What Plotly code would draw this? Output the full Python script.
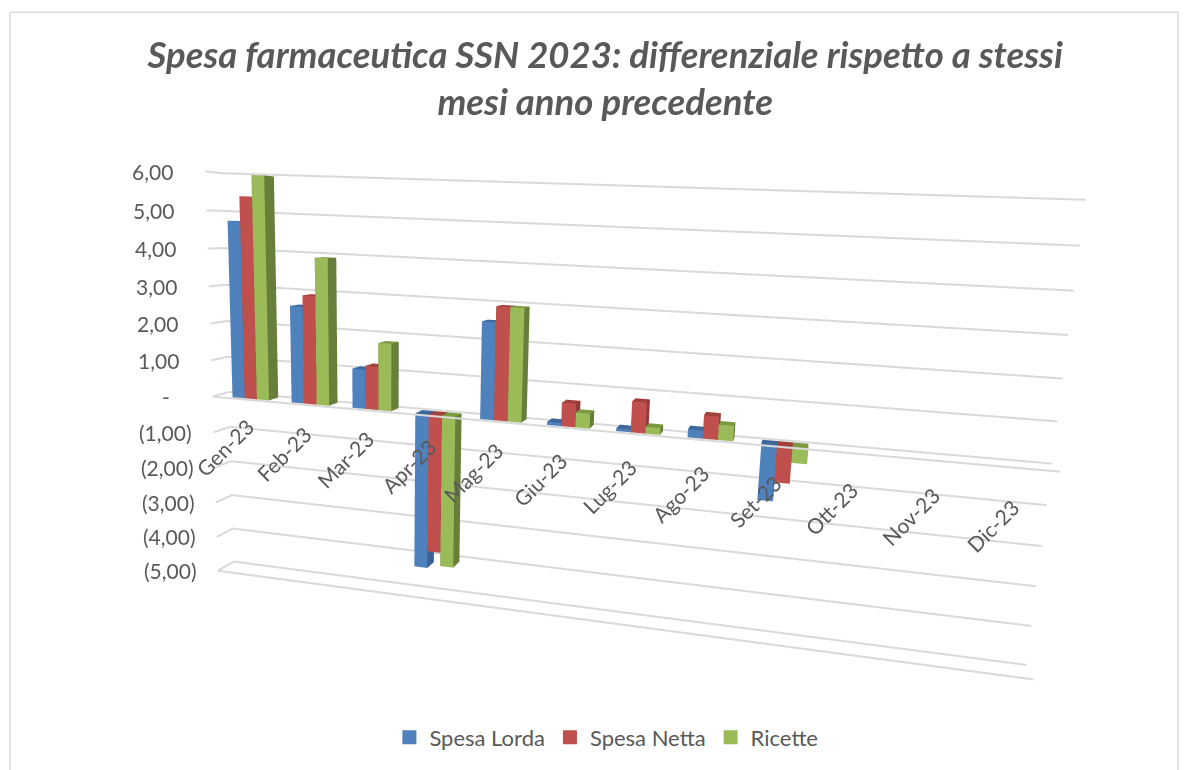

import plotly.graph_objects as go

months = ["Gen-23","Feb-23","Mar-23","Apr-23","Mag-23","Giu-23","Lug-23","Ago-23","Set-23","Ott-23","Nov-23","Dic-23"]
spesa_lorda = [4.75, 2.6, 1.05, -4.2, 2.52, 0.08, 0.07, 0.2, -1.4]
spesa_netta = [5.4, 2.9, 1.15, -3.73, 2.92, 0.6, 0.78, 0.58, -0.92]
ricette     = [5.95, 3.9, 1.78, -4.1, 2.92, 0.38, 0.17, 0.38, -0.4]
z_ticks = [6,5,4,3,2,1,0,-1,-2,-3,-4,-5]
z_labels = ["6,00","5,00","4,00","3,00","2,00","1,00","-","(1,00)","(2,00)","(3,00)","(4,00)","(5,00)"]

series = [("Spesa Lorda", spesa_lorda, "#4F81BD", "#3A6391", "#3D6899"),
          ("Spesa Netta", spesa_netta, "#C0504D", "#8E3B39", "#A03F3C"),
          ("Ricette", ricette, "#9BBB59", "#687F3C", "#7C9A42")]

GAP = 0.19
BAR_SHIFT = 0.1
BW = (1 - 2*GAP)/3
Y0, Y1 = 0.2, 0.8

def boxes(values, k, front, side, top):
    xs, ys, zs, ii, jj, kk, fc = [], [], [], [], [], [], []
    for m, v in enumerate(values):
        a = m + BAR_SHIFT + GAP + k*BW
        b = a + BW
        z0, z1 = min(0, v), max(0, v)
        n = len(xs)
        xs += [a,b,b,a,a,b,b,a]
        ys += [Y0,Y0,Y1,Y1,Y0,Y0,Y1,Y1]
        zs += [z0,z0,z0,z0,z1,z1,z1,z1]
        quads = [((0,1,5,4),front),((1,2,6,5),side),((4,5,6,7),top),
                 ((0,3,7,4),side),((3,2,6,7),side),((0,1,2,3),side)]
        for (p,q,r,s),c in quads:
            ii += [n+p,n+p]; jj += [n+q,n+r]; kk += [n+r,n+s]; fc += [c,c]
    return xs, ys, zs, ii, jj, kk, fc

fig = go.Figure()
for k,(name,vals,front,side,top) in enumerate(series):
    x,y,z,i,j,kk,fc = boxes(vals,k,front,side,top)
    fig.add_trace(go.Mesh3d(x=x,y=y,z=z,i=i,j=j,k=kk,facecolor=fc,flatshading=True,
        lighting=dict(ambient=1,diffuse=0,specular=0,roughness=1,fresnel=0),
        name=name,legendgroup=name,showlegend=False,hoverinfo="skip",showscale=False))
    fig.add_trace(go.Scatter3d(x=[None],y=[None],z=[None],mode="markers",name=name,legendgroup=name,
        marker=dict(symbol="square",size=14,color=front),showlegend=True,hoverinfo="skip"))

GRID = dict(color="#D9D9D9",width=4)
for level in z_ticks:
    fig.add_trace(go.Scatter3d(x=[0,0,12],y=[0,1,1],z=[level]*3,mode="lines",
        line=GRID,showlegend=False,hoverinfo="skip"))
for level in (0,-5):
    fig.add_trace(go.Scatter3d(x=[0,12],y=[0,0],z=[level,level],mode="lines",
        line=GRID,showlegend=False,hoverinfo="skip"))

noaxis = dict(showgrid=False,showline=False,zeroline=False,showticklabels=False,ticks="",
              title="",showbackground=False,showspikes=False)
annots = [dict(x=i+0.5,y=0,z=-1.35,text=t,showarrow=False,textangle=-45,xshift=-18,
               font=dict(family="Lato",size=21,color="#595959")) for i,t in enumerate(months)]
for v,t in zip(z_ticks,z_labels):
    pad = "" if t.startswith("(") else ("\u00a0"*4 if t=="-" else "\u00a0\u00a0")
    annots.append(dict(x=0,y=0,z=v,text=t+pad,showarrow=False,xanchor="right",xshift=-19,
                       font=dict(family="Lato",size=21,color="#595959")))
fig.update_layout(
    width=1189,height=770,margin=dict(l=0,r=0,t=0,b=0),
    paper_bgcolor="white",
    font=dict(family="Lato",color="#595959"),
    title=dict(text="<i><b>Spesa farmaceutica SSN 2023: differenziale rispetto a stessi<br>mesi anno precedente</b></i>",
               x=0.509,xanchor="center",y=0.912,yanchor="top",
               font=dict(family="Lato",size=36.5,color="#595959")),
    legend=dict(orientation="h",x=0.51,xanchor="center",y=0.015,yanchor="bottom",itemwidth=30,
                font=dict(family="Lato",size=22,color="#595959")),
    scene=dict(
        dragmode="orbit",
        domain=dict(x=[0,1],y=[0,1]),
        aspectmode="manual",aspectratio=dict(x=1.9422,y=0.0699,z=1),
        camera=dict(eye=dict(x=0.4368,y=-2.0291,z=0.4141),center=dict(x=-0.0165,y=0.0212,z=0.0484),
                    up=dict(x=-0.0375,y=-0.012,z=1),projection=dict(type="perspective")),
        xaxis=dict(range=[-0.01,12.01],**noaxis),
        yaxis=dict(range=[-0.01,1.01],**noaxis),
        zaxis=dict(range=[-5.02,6.02],**noaxis),
        annotations=annots),
    shapes=[dict(type="line",xref="paper",yref="paper",x0=x0,x1=x1,y0=y0,y1=y1,line=dict(color="#D9D9D9",width=1.5))
            for x0,x1,y0,y1 in [(0.0084,0.0084,0,0.984),(0.0084,0.9908,0.984,0.984),(0.9908,0.9908,0,0.984)]],
)
fig.write_html("out.html", config=dict(displayModeBar=False), post_script="document.body.style.margin='0';")
